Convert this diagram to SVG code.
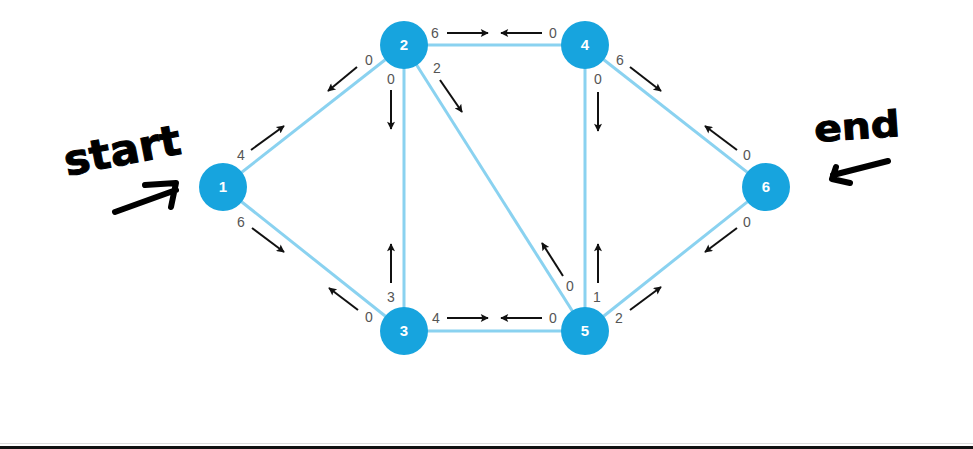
<svg xmlns="http://www.w3.org/2000/svg" width="973" height="449" viewBox="0 0 973 449">
<defs>
<marker id="ah" viewBox="0 0 10 10" refX="9" refY="5" markerWidth="11" markerHeight="8" markerUnits="userSpaceOnUse" orient="auto"><path d="M0,0 L10,5 L0,10 L2,5 Z" fill="#111"/></marker>
<style>
.edge{stroke:#8ad2f0;stroke-width:3;fill:none}
.node circle{fill:#17a4de}
.node text{fill:#fff;font-family:"Liberation Sans",Arial,sans-serif;font-weight:bold;font-size:15px;text-anchor:middle}
.flow{stroke:#111;stroke-width:2;marker-end:url(#ah)}
.lbl{fill:#555;font-family:"Liberation Sans",Arial,sans-serif;font-size:14px;text-anchor:middle}
.hand{fill:#000;stroke:#000;stroke-width:1;font-family:"DejaVu Sans",sans-serif;font-weight:bold}
.hstroke{stroke:#000;stroke-width:6;fill:none;stroke-linecap:round;stroke-linejoin:round}
</style>
</defs>
<rect width="973" height="449" fill="#fff"/>
<g id="connectors">
<line class="edge" x1="223" y1="187" x2="404" y2="45"/>
<line class="edge" x1="223" y1="187" x2="404" y2="331"/>
<line class="edge" x1="404" y1="45" x2="404" y2="331"/>
<line class="edge" x1="404" y1="45" x2="585" y2="45"/>
<line class="edge" x1="404" y1="45" x2="585" y2="331"/>
<line class="edge" x1="404" y1="331" x2="585" y2="331"/>
<line class="edge" x1="585" y1="45" x2="585" y2="331"/>
<line class="edge" x1="585" y1="45" x2="766" y2="187"/>
<line class="edge" x1="585" y1="331" x2="766" y2="187"/>
</g>
<g id="flows">
<line class="flow" x1="251" y1="150" x2="284" y2="126"/>
<line class="flow" x1="357" y1="67" x2="328" y2="91"/>
<line class="flow" x1="391" y1="90" x2="391" y2="129"/>
<line class="flow" x1="391" y1="283" x2="391" y2="244"/>
<line class="flow" x1="447" y1="33" x2="488" y2="33"/>
<line class="flow" x1="542" y1="33" x2="501" y2="33"/>
<line class="flow" x1="440" y1="80" x2="462" y2="112"/>
<line class="flow" x1="563" y1="276" x2="542" y2="243"/>
<line class="flow" x1="598" y1="92" x2="598" y2="131"/>
<line class="flow" x1="598" y1="283" x2="598" y2="244"/>
<line class="flow" x1="447" y1="318" x2="488" y2="318"/>
<line class="flow" x1="542" y1="318" x2="501" y2="318"/>
<line class="flow" x1="252" y1="228" x2="284" y2="252"/>
<line class="flow" x1="358" y1="310" x2="329" y2="288"/>
<line class="flow" x1="630" y1="67" x2="661" y2="91"/>
<line class="flow" x1="737" y1="150" x2="705" y2="126"/>
<line class="flow" x1="630" y1="310" x2="661" y2="287"/>
<line class="flow" x1="737" y1="228" x2="705" y2="252"/>
</g>
<g id="labels">
<text class="lbl" x="241" y="160">4</text>
<text class="lbl" x="369" y="65">0</text>
<text class="lbl" x="391" y="84">0</text>
<text class="lbl" x="391" y="302">3</text>
<text class="lbl" x="435" y="38">6</text>
<text class="lbl" x="553" y="38">0</text>
<text class="lbl" x="437" y="73">2</text>
<text class="lbl" x="570" y="291">0</text>
<text class="lbl" x="598" y="84">0</text>
<text class="lbl" x="597" y="302">1</text>
<text class="lbl" x="436" y="323">4</text>
<text class="lbl" x="553" y="323">0</text>
<text class="lbl" x="241" y="227">6</text>
<text class="lbl" x="369" y="322">0</text>
<text class="lbl" x="620" y="65">6</text>
<text class="lbl" x="747" y="160">0</text>
<text class="lbl" x="619" y="323">2</text>
<text class="lbl" x="747" y="227">0</text>
</g>
<g id="node1" class="node"><circle cx="223" cy="187" r="24"/><text x="223" y="192">1</text></g>
<g id="node2" class="node"><circle cx="404" cy="45" r="24"/><text x="404" y="50">2</text></g>
<g id="node3" class="node"><circle cx="404" cy="331" r="24"/><text x="404" y="336">3</text></g>
<g id="node4" class="node"><circle cx="585" cy="45" r="24"/><text x="585" y="50">4</text></g>
<g id="node5" class="node"><circle cx="585" cy="331" r="24"/><text x="585" y="336">5</text></g>
<g id="node6" class="node"><circle cx="766" cy="187" r="24"/><text x="766" y="192">6</text></g>
<g id="annotations">
<text class="hand" font-size="42" transform="translate(67,176) rotate(-11)" textLength="118" lengthAdjust="spacingAndGlyphs">start</text>
<path class="hstroke" d="M115,212 L176,190 M145,185 L176,183 L171,207"/>
<text class="hand" font-size="36" transform="translate(815,142) rotate(-4)" textLength="86" lengthAdjust="spacingAndGlyphs">end</text>
<path class="hstroke" d="M888,161 L833,175 M836,167 L832,179 L850,183"/>
</g>
<rect x="0" y="443" width="973" height="1" fill="#ddd"/>
<rect x="0" y="446" width="973" height="3" fill="#111"/>
</svg>
